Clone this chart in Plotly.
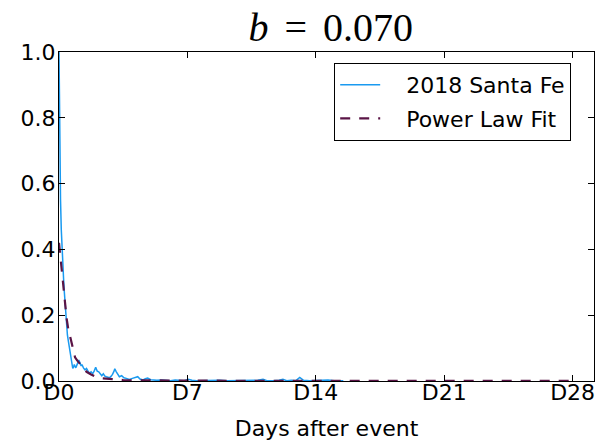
import plotly.graph_objects as go

# Observed series (hours after event, normalized activity)
obs_hours = [0, 1, 2, 3, 4, 5, 6, 7, 8, 9, 10, 11, 12, 13, 14, 15, 16, 17, 18, 19,
             20, 21, 22, 23, 24, 25, 26, 27, 28, 29, 30, 31, 32, 34, 36, 38, 40, 42,
             44, 46, 48, 49, 50, 52, 54, 56, 58, 60, 62, 64, 66, 68, 70, 72, 73, 75,
             77, 79, 82, 85, 88, 92, 96, 100, 103, 106, 110, 113, 116, 120, 124, 128,
             134, 140, 146, 152, 158, 164, 169, 174, 180, 190, 200, 210, 220, 230, 240,
             250, 260, 267, 272, 280, 288, 293, 298, 304, 310, 315, 320, 328, 336, 344,
             352, 360, 366, 372]
obs_values = [1.00, 0.72, 0.55, 0.46, 0.39, 0.35, 0.31, 0.27, 0.23, 0.19, 0.16, 0.14,
              0.125, 0.11, 0.095, 0.08, 0.065, 0.05, 0.038, 0.042, 0.05, 0.045, 0.04,
              0.046, 0.052, 0.058, 0.064, 0.058, 0.05, 0.046, 0.05, 0.044, 0.04, 0.034,
              0.038, 0.03, 0.024, 0.028, 0.022, 0.03, 0.042, 0.036, 0.03, 0.028, 0.02,
              0.016, 0.022, 0.015, 0.013, 0.012, 0.01, 0.014, 0.02, 0.03, 0.037, 0.028,
              0.018, 0.013, 0.016, 0.01, 0.008, 0.005, 0.008, 0.012, 0.013, 0.006,
              0.003, 0.007, 0.009, 0.004, 0.003, 0.002, 0.003, 0.002, 0.001, 0.003,
              0.002, 0.001, 0.005, 0.002, 0.001, 0.002, 0.001, 0.002, 0.001, 0.001,
              0.002, 0.001, 0.002, 0.005, 0.001, 0.001, 0.002, 0.005, 0.001, 0.002,
              0.001, 0.011, 0.002, 0.001, 0.002, 0.001, 0.003, 0.001, 0.002, 0.001]

# Power law fit (hours after event, fitted value)
fit_hours = [0, 2, 4, 6, 8, 10, 12, 15, 18, 21, 24, 28, 32, 36, 42, 48, 56, 64, 72,
             84, 96, 120, 168, 240, 336, 504, 672]
fit_values = [0.42, 0.37, 0.32, 0.27, 0.23, 0.19, 0.16, 0.13, 0.095, 0.072, 0.062,
              0.05, 0.038, 0.028, 0.02, 0.013, 0.008, 0.006, 0.004, 0.003, 0.002,
              0.0015, 0.001, 0.0005, 0.0003, 0.0002, 0.0001]

tick_vals = [0, 168, 336, 504, 672]
tick_text = ["D0", "D7", "D14", "D21", "D28"]
y_ticks = [0.0, 0.2, 0.4, 0.6, 0.8, 1.0]
y_tick_text = ["0.0", "0.2", "0.4", "0.6", "0.8", "1.0"]

title_text = "<i>b</i>\u2009\u2009=\u2009\u20090.070"
NB = "\u00a0\u00a0\u00a0"

fig = go.Figure()
fig.add_trace(go.Scatter(x=obs_hours, y=obs_values, mode="lines",
                         name=NB + "2018 Santa Fe", legendgroup="a",
                         line=dict(color="#1a9af0", width=1.5)))
fig.add_trace(go.Scatter(x=fit_hours, y=fit_values, mode="lines",
                         name=NB + "Power Law Fit", legendgroup="b",
                         line=dict(color="#5a1446", width=2.2, dash="10px,9px")))

axis_common = dict(showgrid=False, zeroline=False, showline=True, linecolor="black",
                   linewidth=1.2, mirror="ticks", ticks="inside", ticklen=6,
                   tickcolor="black", tickwidth=1, automargin=False,
                   tickfont=dict(family="DejaVu Sans", size=22, color="black"))

fig.update_layout(
    width=598, height=441,
    margin=dict(l=59, r=4, t=52, b=60),
    paper_bgcolor="white", plot_bgcolor="white",
    title=dict(text=title_text, x=0.553, xanchor="center", y=0.939, yanchor="middle",
               font=dict(family="Liberation Serif", size=40, color="black")),
    xaxis=dict(range=[0, 700], tickvals=tick_vals, ticktext=tick_text,
               ticklabelstandoff=-9,
               title=dict(text="Days after event", standoff=17,
                          font=dict(family="DejaVu Sans", size=22, color="black")),
               **axis_common),
    yaxis=dict(range=[0, 1.0], tickvals=y_ticks, ticktext=y_tick_text,
               ticklabelstandoff=-2,
               **axis_common),
    legend=dict(x=0.514, y=0.967, xanchor="left", yanchor="top",
                bgcolor="white", bordercolor="black", borderwidth=1.2,
                font=dict(family="DejaVu Sans", size=22, color="black"),
                tracegroupgap=2, itemwidth=40),
    showlegend=True,
)

fig.write_html("out.html",
               config={"displayModeBar": False},
               post_script="document.body.style.margin='0';document.body.style.overflow='hidden';")
